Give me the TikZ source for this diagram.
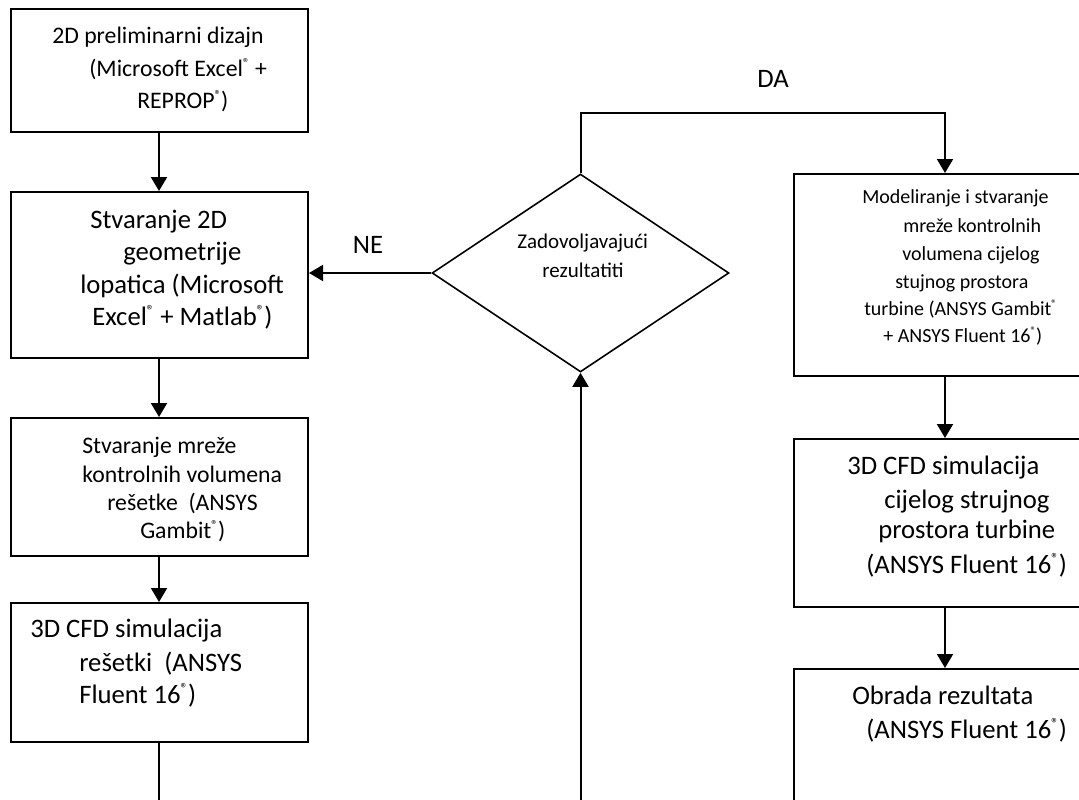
\documentclass[tikz,border=0pt]{standalone}
\usepackage{fontspec}
\setmainfont{Carlito}
\usepackage{graphicx}
\usetikzlibrary{arrows.meta,shapes.geometric}
\newcommand{\rg}{\raisebox{0.36em}{\scalebox{0.55}{®}}}
\tikzset{
  box/.style={draw, line width=1.5pt, rectangle, inner sep=0pt, anchor=north west},
  dia/.style={draw, line width=1.2pt, diamond, inner sep=0pt, minimum width=222.75pt, minimum height=148.5pt},
  conn/.style={line width=1.5pt},
  arr/.style={line width=1.5pt, -{Triangle[width=12pt,length=10.5pt]}},
  tl/.style={inner sep=0pt, anchor=base west},
  fa/.style={tl, font=\fontsize{20pt}{24pt}\selectfont},
  fb/.style={tl, font=\fontsize{17.8pt}{22pt}\selectfont},
  fc/.style={tl, font=\fontsize{15.75pt}{19pt}\selectfont},
  fd/.style={tl, font=\fontsize{15pt}{18pt}\selectfont},
  lab/.style={inner sep=0pt, font=\fontsize{20pt}{24pt}\selectfont}
}
\begin{document}
\begin{tikzpicture}[x=0.75pt,y=-0.75pt]
\path[use as bounding box, clip] (0,0) rectangle (1079,800);
\fill[white] (0,0) rectangle (1079,800);
% left column boxes
\node[box, minimum width=222.75pt, minimum height=92.25pt] (b1) at (10,8) {};
\node[box, minimum width=222.75pt, minimum height=124.5pt] (b2) at (10,191) {};
\node[box, minimum width=222.75pt, minimum height=103.5pt] (b3) at (10,417) {};
\node[box, minimum width=222.75pt, minimum height=104.25pt] (b4) at (10,602) {};
% right column boxes
\node[box, minimum width=230.25pt, minimum height=151.5pt] (b5) at (793,173) {};
\node[box, minimum width=230.25pt, minimum height=126pt] (b6) at (793,438) {};
\node[box, minimum width=230.25pt, minimum height=121.5pt] (b7) at (793,668) {};
% decision
\node[dia] (d) at (580.5,273) {};
% texts
\node[fb] (t11) at (52,43) {2D preliminarni dizajn};
\node[fb] (t12) at (89,76) {(Microsoft Excel\rg{} +};
\node[fb] (t13) at (137,108) {REPROP\rg)};
\node[fa] (t21) at (90,228) {Stvaranje 2D};
\node[fa] (t22) at (123,260) {geometrije};
\node[fa] (t23) at (80,293) {lopatica (Microsoft};
\node[fa] (t24) at (92,325) {Excel\rg{} + Matlab\rg)};
\node[fb] (t31) at (82,453) {Stvaranje mreže};
\node[fb] (t32) at (82,482) {kontrolnih volumena};
\node[fb] (t33) at (107,510) {rešetke\ \ (ANSYS};
\node[fb] (t34) at (140,538) {Gambit\rg)};
\node[fa] (t41) at (30,637) {3D CFD simulacija};
\node[fa] (t42) at (79,671) {rešetki\ \ (ANSYS};
\node[fa] (t43) at (79,703) {Fluent 16\rg)};
\node[fc] (td1) at (517,248) {Zadovoljavajući};
\node[fc] (td2) at (542,277) {rezultatiti};
\node[fd] (t51) at (862,203) {Modeliranje i stvaranje};
\node[fd] (t52) at (903,232) {mreže kontrolnih};
\node[fd] (t53) at (902,260) {volumena cijelog};
\node[fd] (t54) at (895,288) {stujnog prostora};
\node[fd] (t55) at (864,315) {turbine (ANSYS Gambit\rg};
\node[fd] (t56) at (883,342) {+ ANSYS Fluent 16\rg)};
\node[fa] (t61) at (847,474) {3D CFD simulacija};
\node[fa] (t62) at (884,508) {cijelog strujnog};
\node[fa] (t63) at (878,538) {prostora turbine};
\node[fa] (t64) at (866,573) {(ANSYS Fluent 16\rg)};
\node[fa] (t71) at (852,704) {Obrada rezultata};
\node[fa] (t72) at (866,738) {(ANSYS Fluent 16\rg)};
% labels
\node[lab] (ne) at (368,245) {NE};
\node[lab] (da) at (773,79) {DA};
% connectors
\coordinate (lc) at (159,0);
\coordinate (rc) at (945,0);
\coordinate (bl) at (159,810);
\coordinate (bm) at (580.5,810);
\coordinate (top) at (580.5,113);
\draw[arr] (b1.south -| lc) -- (b2.north -| lc);
\draw[arr] (b2.south -| lc) -- (b3.north -| lc);
\draw[arr] (b3.south -| lc) -- (b4.north -| lc);
\draw[conn] (b4.south -| lc) -- (bl);
\draw[arr] (bm) -- (d.south);
\draw[arr] (d.west) -- (b2.east |- d.west);
\draw[arr] (d.north) -- (top) -| (b5.north -| rc);
\draw[arr] (b5.south -| rc) -- (b6.north -| rc);
\draw[arr] (b6.south -| rc) -- (b7.north -| rc);
\end{tikzpicture}
\end{document}
